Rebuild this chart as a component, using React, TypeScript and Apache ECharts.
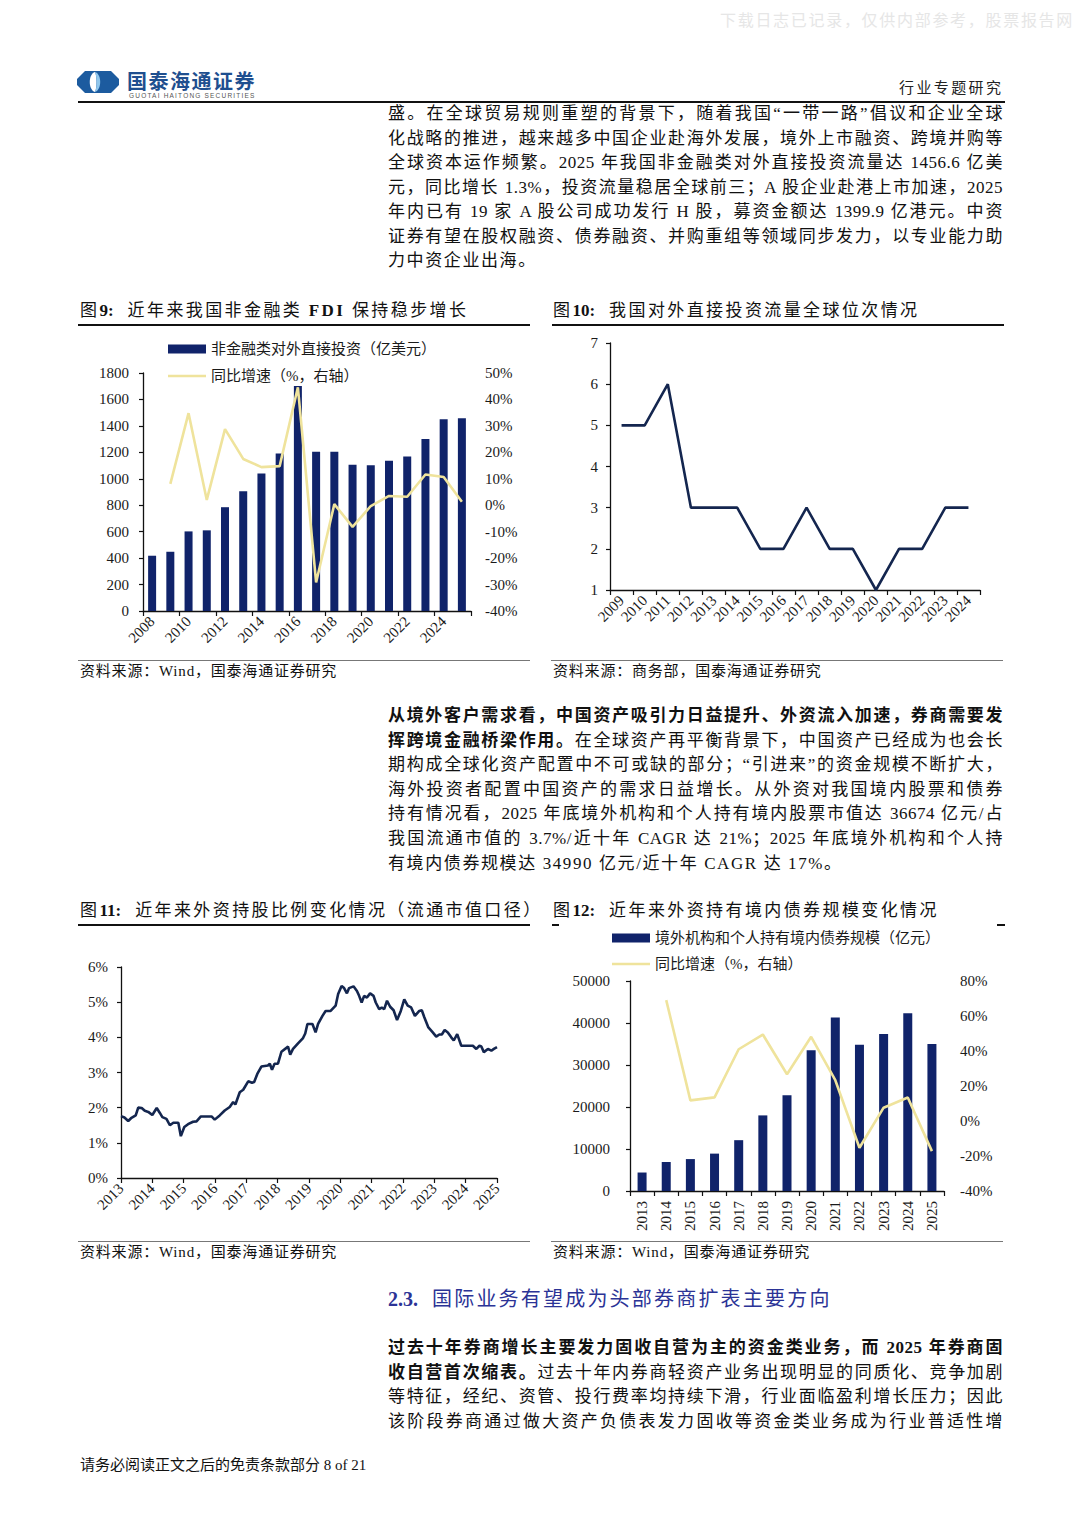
import React, { useEffect, useRef } from 'react';
import * as echarts from 'echarts';

const FONT = '"Liberation Serif", "Noto Sans CJK SC", serif';
const NAVY = '#10236a';
const YELLOW = '#efe39c';
const DARKLINE = '#14264f';
const LINE_ICON = 'path://M0,0 H38 V2.6 H0 Z';

// ---------- Chart 9 data ----------
const fdiYears = ['2008', '2009', '2010', '2011', '2012', '2013', '2014', '2015', '2016', '2017', '2018', '2019', '2020', '2021', '2022', '2023', '2024', '2025'];
const fdiValues = [418, 448, 602, 610, 785, 905, 1040, 1192, 1701, 1205, 1205, 1106, 1102, 1136, 1168, 1301, 1450, 1457];
const fdiYoy = [null, 8.1, 34.8, 2.0, 28.8, 17.5, 14.4, 14.8, 44.6, -29.2, 0.4, -8.2, -0.3, 3.5, 3.2, 11.6, 10.7, 1.3];
const fdiBarName = '非金融类对外直接投资（亿美元）';
const fdiLineName = '同比增速（%，右轴）';

// ---------- Chart 10 data ----------
const rankYears = ['2009', '2010', '2011', '2012', '2013', '2014', '2015', '2016', '2017', '2018', '2019', '2020', '2021', '2022', '2023', '2024'];
const rankValues = [5, 5, 6, 3, 3, 3, 2, 2, 3, 2, 2, 1, 2, 2, 3, 3];

// ---------- Chart 11 data ----------
const shareTime = [
  2013.0, 2013.11, 2013.23, 2013.32, 2013.47, 2013.55, 2013.66, 2013.76, 2013.87, 2014.0,
  2014.14, 2014.24, 2014.32, 2014.45, 2014.56, 2014.67, 2014.83, 2014.91, 2015.02, 2015.14,
  2015.3, 2015.41, 2015.55, 2015.89, 2015.99, 2016.15, 2016.31, 2016.47, 2016.58, 2016.65,
  2016.79, 2016.9, 2017.06, 2017.18, 2017.25, 2017.35, 2017.48, 2017.69, 2017.75, 2017.82,
  2017.9, 2018.01, 2018.12, 2018.28, 2018.33, 2018.4, 2018.49, 2018.65, 2018.81, 2018.88,
  2018.95, 2019.11, 2019.21, 2019.29, 2019.43, 2019.53, 2019.69, 2019.85, 2019.93, 2020.04,
  2020.12, 2020.21, 2020.28, 2020.42, 2020.53, 2020.6, 2020.68, 2020.76, 2020.85, 2020.95,
  2021.06, 2021.13, 2021.24, 2021.32, 2021.4, 2021.49, 2021.59, 2021.7, 2021.81, 2021.93,
  2022.04, 2022.15, 2022.26, 2022.38, 2022.52, 2022.6, 2022.68, 2022.81, 2022.95, 2023.06,
  2023.16, 2023.24, 2023.33, 2023.43, 2023.54, 2023.62, 2023.73, 2023.86, 2024.07, 2024.23,
  2024.34, 2024.44, 2024.5, 2024.58, 2024.71, 2024.82, 2024.9, 2025.0,
];
const shareValues = [
  1.76, 1.72, 1.62, 1.7, 1.78, 2.0, 1.99, 1.91, 1.88, 1.79,
  1.99, 1.85, 1.73, 1.68, 1.5, 1.57, 1.57, 1.19, 1.45, 1.53,
  1.6, 1.61, 1.75, 1.75, 1.66, 1.78, 1.92, 2.02, 2.16, 2.09,
  2.44, 2.51, 2.75, 2.71, 2.73, 2.96, 3.17, 3.2, 3.25, 3.08,
  3.25, 3.25, 3.59, 3.7, 3.74, 3.51, 3.67, 3.83, 3.98, 4.11,
  4.38, 4.38, 4.14, 4.38, 4.61, 4.75, 4.75, 4.9, 5.23, 5.46,
  5.4, 5.25, 5.4, 5.45, 5.32, 5.18, 4.99, 5.18, 5.13, 5.25,
  5.18, 4.99, 4.8, 4.85, 4.8, 5.04, 4.87, 4.77, 4.49, 4.75,
  5.08, 4.9, 4.85, 4.61, 4.75, 4.77, 4.57, 4.28, 4.14, 4.02,
  4.08, 4.08, 4.21, 4.14, 4.0, 3.91, 4.09, 3.76, 3.76, 3.76,
  3.67, 3.76, 3.74, 3.58, 3.67, 3.62, 3.67, 3.72,
];

// ---------- Chart 12 data ----------
const bondYears = ['2013', '2014', '2015', '2016', '2017', '2018', '2019', '2020', '2021', '2022', '2023', '2024', '2025'];
const bondValues = [4400, 6900, 7600, 8900, 12100, 18000, 22800, 33500, 41300, 34800, 37400, 42300, 34990];
const bondYoy = [null, 69.1, 11.8, 13.5, 41.0, 49.4, 26.7, 48.1, 23.3, -15.3, 7.6, 13.4, -17.2];
const bondBarName = '境外机构和个人持有境内债券规模（亿元）';
const bondLineName = '同比增速（%，右轴）';

// ---------- Page text ----------
type Seg = { t: string; b?: boolean };
const para1: Seg[][] = [
  [{ t: '盛。在全球贸易规则重塑的背景下，随着我国“一带一路”倡议和企业全球' }],
  [{ t: '化战略的推进，越来越多中国企业赴海外发展，境外上市融资、跨境并购等' }],
  [{ t: '全球资本运作频繁。2025 年我国非金融类对外直接投资流量达 1456.6 亿美' }],
  [{ t: '元，同比增长 1.3%，投资流量稳居全球前三；A 股企业赴港上市加速，2025' }],
  [{ t: '年内已有 19 家 A 股公司成功发行 H 股，募资金额达 1399.9 亿港元。中资' }],
  [{ t: '证券有望在股权融资、债券融资、并购重组等领域同步发力，以专业能力助' }],
  [{ t: '力中资企业出海。' }],
];
const para2: Seg[][] = [
  [{ t: '从境外客户需求看，中国资产吸引力日益提升、外资流入加速，券商需要发', b: true }],
  [{ t: '挥跨境金融桥梁作用。', b: true }, { t: '在全球资产再平衡背景下，中国资产已经成为也会长' }],
  [{ t: '期构成全球化资产配置中不可或缺的部分；“引进来”的资金规模不断扩大，' }],
  [{ t: '海外投资者配置中国资产的需求日益增长。从外资对我国境内股票和债券' }],
  [{ t: '持有情况看，2025 年底境外机构和个人持有境内股票市值达 36674 亿元/占' }],
  [{ t: '我国流通市值的 3.7%/近十年 CAGR 达 21%；2025 年底境外机构和个人持' }],
  [{ t: '有境内债券规模达 34990 亿元/近十年 CAGR 达 17%。' }],
];
const para3: Seg[][] = [
  [{ t: '过去十年券商增长主要发力固收自营为主的资金类业务，而 2025 年券商固', b: true }],
  [{ t: '收自营首次缩表。', b: true }, { t: '过去十年内券商轻资产业务出现明显的同质化、竞争加剧' }],
  [{ t: '等特征，经纪、资管、投行费率均持续下滑，行业面临盈利增长压力；因此' }],
  [{ t: '该阶段券商通过做大资产负债表发力固收等资金类业务成为行业普适性增' }],
];

const axisLabel = { fontFamily: FONT, fontSize: 15, color: '#1a1a1a' };
const axisLineBlack = { show: true, lineStyle: { color: '#111', width: 1.3 } };
const tickBlack = { show: true, length: 5, lineStyle: { color: '#111', width: 1.2 } };
const plain = (v: number) => String(v);

function fdiOption(): any {
  return {
    animation: false,
    grid: { left: 68, top: 43, width: 328, height: 238 },
    legend: {
      orient: 'vertical', left: 88, top: 6, itemWidth: 38, itemHeight: 9, itemGap: 11,
      textStyle: { fontFamily: FONT, fontSize: 15, color: '#1a1a1a', lineHeight: 16 },
      data: [{ name: fdiBarName, icon: 'rect' }, { name: fdiLineName, icon: LINE_ICON }],
    },
    xAxis: {
      type: 'category', data: fdiYears,
      axisLine: axisLineBlack,
      axisTick: { ...tickBlack, interval: 1 },
      axisLabel: { ...axisLabel, interval: 1, rotate: 45, margin: 8 },
    },
    yAxis: [
      {
        type: 'value', min: 0, max: 1800, interval: 200,
        axisLine: axisLineBlack, axisTick: { ...tickBlack, length: 4 }, splitLine: { show: false },
        axisLabel: { ...axisLabel, margin: 14, formatter: plain },
      },
      {
        type: 'value', min: -40, max: 50, interval: 10, position: 'right',
        axisLine: { show: false }, axisTick: { show: false }, splitLine: { show: false },
        axisLabel: { ...axisLabel, margin: 14, formatter: '{value}%' },
      },
    ],
    series: [
      { name: fdiBarName, type: 'bar', data: fdiValues, barWidth: 8, itemStyle: { color: NAVY } },
      {
        name: fdiLineName, type: 'line', yAxisIndex: 1, data: fdiYoy, symbol: 'none',
        lineStyle: { color: YELLOW, width: 2.6 }, itemStyle: { color: YELLOW },
      },
    ],
  };
}

function rankOption(): any {
  return {
    animation: false,
    grid: { left: 62, top: 13, width: 370, height: 247 },
    xAxis: {
      type: 'category', data: rankYears,
      axisLine: axisLineBlack, axisTick: tickBlack,
      axisLabel: { ...axisLabel, interval: 0, rotate: 45, margin: 8 },
    },
    yAxis: {
      type: 'value', min: 1, max: 7, interval: 1,
      axisLine: axisLineBlack, axisTick: { ...tickBlack, length: 4 }, splitLine: { show: false },
      axisLabel: { ...axisLabel, margin: 12 },
    },
    series: [
      { type: 'line', data: rankValues, symbol: 'none', lineStyle: { color: DARKLINE, width: 2.6 } },
    ],
  };
}

function shareOption(): any {
  return {
    animation: false,
    grid: { left: 46, top: 37, width: 376, height: 211 },
    xAxis: {
      type: 'value', min: 2013, max: 2025, interval: 1,
      axisLine: axisLineBlack, axisTick: tickBlack, splitLine: { show: false },
      axisLabel: { ...axisLabel, rotate: 45, margin: 8, formatter: (v: number) => String(Math.round(v)) },
    },
    yAxis: {
      type: 'value', min: 0, max: 6, interval: 1,
      axisLine: axisLineBlack, axisTick: { ...tickBlack, length: 4 }, splitLine: { show: false },
      axisLabel: { ...axisLabel, margin: 13, formatter: '{value}%' },
    },
    series: [
      {
        type: 'line', symbol: 'none',
        data: shareTime.map((t, i) => [t, shareValues[i]]),
        lineStyle: { color: DARKLINE, width: 2.6 },
      },
    ],
  };
}

function bondOption(): any {
  return {
    animation: false,
    grid: { left: 82, top: 56, width: 314, height: 210 },
    legend: {
      orient: 'vertical', left: 59, top: 0, itemWidth: 38, itemHeight: 9, itemGap: 10,
      textStyle: { fontFamily: FONT, fontSize: 15, color: '#1a1a1a', lineHeight: 16 },
      data: [{ name: bondBarName, icon: 'rect' }, { name: bondLineName, icon: LINE_ICON }],
    },
    xAxis: {
      type: 'category', data: bondYears,
      axisLine: axisLineBlack, axisTick: tickBlack,
      axisLabel: { ...axisLabel, interval: 0, rotate: 90, margin: 10 },
    },
    yAxis: [
      {
        type: 'value', min: 0, max: 50000, interval: 10000,
        axisLine: axisLineBlack, axisTick: { ...tickBlack, length: 4 }, splitLine: { show: false },
        axisLabel: { ...axisLabel, margin: 20, formatter: plain },
      },
      {
        type: 'value', min: -40, max: 80, interval: 20, position: 'right',
        axisLine: { show: false }, axisTick: { show: false }, splitLine: { show: false },
        axisLabel: { ...axisLabel, margin: 16, formatter: '{value}%' },
      },
    ],
    series: [
      { name: bondBarName, type: 'bar', data: bondValues, barWidth: 9, itemStyle: { color: NAVY } },
      {
        name: bondLineName, type: 'line', yAxisIndex: 1, data: bondYoy, symbol: 'none',
        lineStyle: { color: YELLOW, width: 2.6 }, itemStyle: { color: YELLOW },
      },
    ],
  };
}

function Chart(props: { option: () => any; left: number; top: number; width: number; height: number }) {
  const ref = useRef<HTMLDivElement>(null);
  useEffect(() => {
    const chart = echarts.init(ref.current as HTMLDivElement, null, { renderer: 'svg' });
    chart.setOption(props.option());
    return () => chart.dispose();
  }, []);
  return (
    <div
      ref={ref}
      style={{ position: 'absolute', left: props.left, top: props.top, width: props.width, height: props.height }}
    />
  );
}

function Para(props: { lines: Seg[][]; y0: number; step: number; lastJustify?: boolean }) {
  const { lines, y0, step } = props;
  return (
    <>
      {lines.map((segs, i) => {
        const isLast = i === lines.length - 1 && !props.lastJustify;
        return (
          <div
            key={i}
            style={{
              position: 'absolute', left: 388, width: 615, top: y0 + i * step - 12, height: 24,
              lineHeight: '24px', fontSize: 17, letterSpacing: isLast ? 1.6 : 0.5, color: '#111',
              textAlign: isLast ? 'left' : 'justify', textAlignLast: isLast ? 'left' : 'justify',
              fontFamily: FONT,
            } as any}
          >
            {segs.map((s, j) => (
              <span key={j} style={{ fontWeight: s.b ? 700 : 400 }}>{s.t}</span>
            ))}
          </div>
        );
      })}
    </>
  );
}

function Title(props: { x: number; y: number; num: string; children: any }) {
  return (
    <div
      style={{
        position: 'absolute', left: props.x, top: props.y - 12, height: 24, lineHeight: '24px',
        fontSize: 17, letterSpacing: 2.4, color: '#111', fontFamily: FONT, whiteSpace: 'nowrap',
      }}
    >
      <span>图</span>
      <b style={{ letterSpacing: 0 }}>{props.num}:</b>
      <span style={{ marginLeft: 14 }}>{props.children}</span>
    </div>
  );
}

function Source(props: { x: number; y: number; text: string }) {
  return (
    <>
      <div style={{ position: 'absolute', left: props.x - 2, top: props.y - 10, width: 452, height: 1, background: '#777' }} />
      <div
        style={{
          position: 'absolute', left: props.x, top: props.y - 8, height: 18, lineHeight: '18px',
          fontSize: 15, letterSpacing: 0.8, color: '#111', fontFamily: FONT, whiteSpace: 'nowrap',
        }}
      >
        {props.text}
      </div>
    </>
  );
}

export default function App() {
  return (
    <div
      style={{
        position: 'absolute', left: 0, top: 0, width: 1080, height: 1527, background: '#fff',
        overflow: 'hidden', fontFamily: FONT,
      }}
    >
      {/* watermark */}
      <div style={{ position: 'absolute', left: 720, top: 10, fontSize: 16, color: '#e6e6e6', whiteSpace: 'nowrap', letterSpacing: 1.7, lineHeight: '22px' }}>
        下载日志已记录，仅供内部参考，股票报告网
      </div>
      {/* logo */}
      <svg width={44} height={24} style={{ position: 'absolute', left: 76, top: 70 }}>
        <path d="M9 1 H35 L43 9 V15 L35 23 H9 L1 15 V9 Z" fill="#1c5b9f" />
        <path d="M19 2 C12 4 12 20 19 22 C21 18 21 6 19 2 Z" fill="#ffffff" />
        <path d="M19 2 C26 4 26 20 19 22 C21 18 21 6 19 2 Z" fill="#8fc6ec" />
      </svg>
      <div style={{ position: 'absolute', left: 127, top: 71, fontSize: 20, fontWeight: 700, color: '#1f4f8f', fontFamily: '"Noto Sans CJK SC", sans-serif', letterSpacing: 1.5, lineHeight: '19px', height: 19, whiteSpace: 'nowrap' }}>
        国泰海通证券
      </div>
      <div style={{ position: 'absolute', left: 129, top: 92, fontSize: 6.5, color: '#555', fontFamily: '"Liberation Sans", sans-serif', letterSpacing: 1.2, lineHeight: '7px', height: 7, whiteSpace: 'nowrap' }}>
        GUOTAI HAITONG SECURITIES
      </div>
      <div style={{ position: 'absolute', left: 899, top: 78, fontSize: 15, color: '#222', letterSpacing: 2.4, lineHeight: '20px', whiteSpace: 'nowrap' }}>
        行业专题研究
      </div>
      <div style={{ position: 'absolute', left: 78, top: 101, width: 927, height: 2, background: '#111' }} />

      <Para lines={para1} y0={114} step={24.5} />

      {/* Chart 9 */}
      <Title x={80} y={311} num="9">近年来我国非金融类 <b>FDI</b> 保持稳步增长</Title>
      <div style={{ position: 'absolute', left: 78, top: 324, width: 452, height: 1.5, background: '#111' }} />
      <Chart option={fdiOption} left={75} top={330} width={470} height={325} />
      <Source x={80} y={670} text="资料来源：Wind，国泰海通证券研究" />

      {/* Chart 10 */}
      <Title x={553} y={311} num="10">我国对外直接投资流量全球位次情况</Title>
      <div style={{ position: 'absolute', left: 552, top: 324, width: 452, height: 1.5, background: '#111' }} />
      <Chart option={rankOption} left={548} top={330} width={460} height={325} />
      <Source x={553} y={670} text="资料来源：商务部，国泰海通证券研究" />

      <Para lines={para2} y0={716} step={24.6} />

      {/* Chart 11 */}
      <Title x={80} y={911} num="11">近年来外资持股比例变化情况（流通市值口径）</Title>
      <div style={{ position: 'absolute', left: 78, top: 924, width: 452, height: 1.5, background: '#111' }} />
      <Chart option={shareOption} left={75} top={930} width={460} height={320} />
      <Source x={80} y={1251} text="资料来源：Wind，国泰海通证券研究" />

      {/* Chart 12 */}
      <Title x={553} y={911} num="12">近年来外资持有境内债券规模变化情况</Title>
      <div style={{ position: 'absolute', left: 552, top: 924, width: 7, height: 1.5, background: '#111' }} />
      <div style={{ position: 'absolute', left: 997, top: 924, width: 8, height: 1.5, background: '#111' }} />
      <Chart option={bondOption} left={548} top={925} width={460} height={310} />
      <Source x={553} y={1251} text="资料来源：Wind，国泰海通证券研究" />

      {/* Section heading */}
      <div style={{ position: 'absolute', left: 388, top: 1286, height: 26, lineHeight: '26px', fontSize: 20, color: '#2b3396', letterSpacing: 2.2, whiteSpace: 'nowrap' }}>
        <b style={{ letterSpacing: 0 }}>2.3.</b>
        <span style={{ marginLeft: 14 }}>国际业务有望成为头部券商扩表主要方向</span>
      </div>

      <Para lines={para3} y0={1348} step={24.5} lastJustify />

      {/* footer */}
      <div style={{ position: 'absolute', left: 80, top: 1455, height: 20, lineHeight: '20px', fontSize: 15, color: '#111', whiteSpace: 'nowrap' }}>
        请务必阅读正文之后的免责条款部分 8 of 21
      </div>
    </div>
  );
}
